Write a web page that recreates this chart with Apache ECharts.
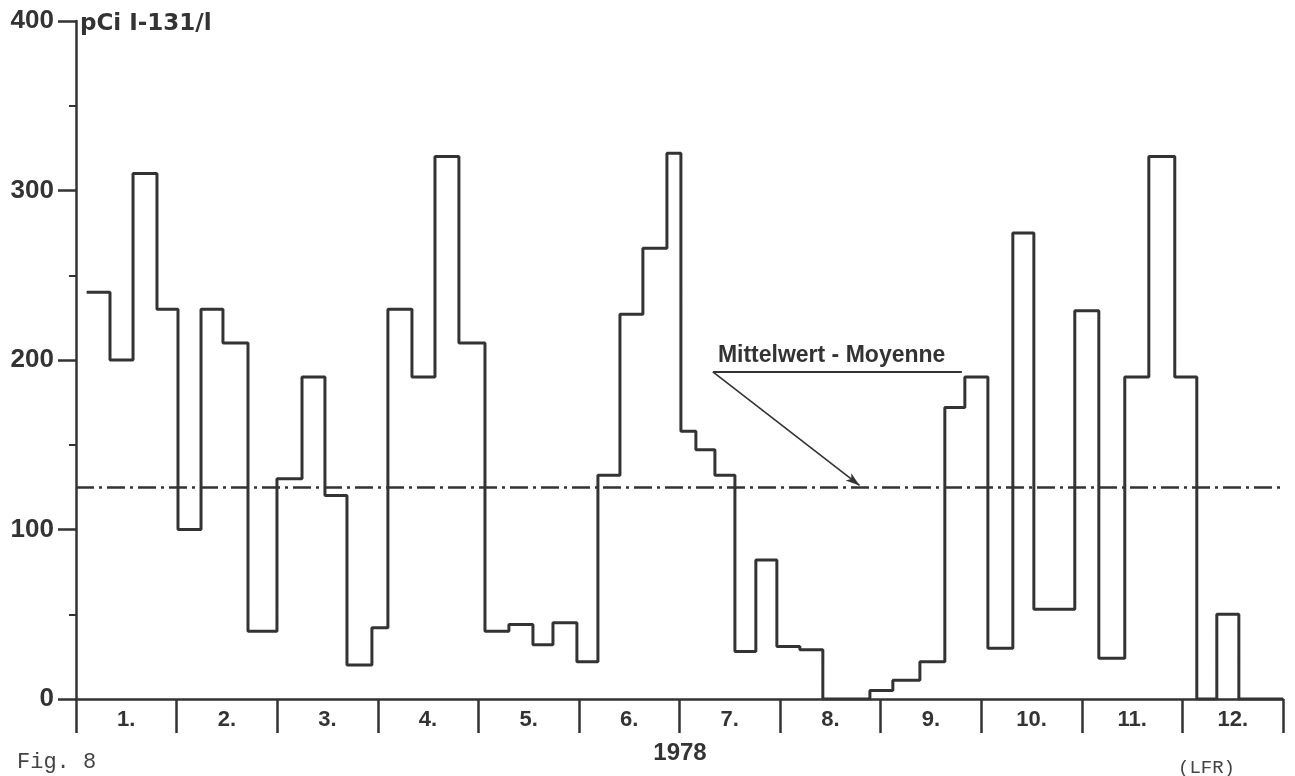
<!DOCTYPE html>
<html>
<head>
<meta charset="utf-8">
<script src="https://cdn.jsdelivr.net/npm/echarts@6/dist/echarts.min.js"></script>
<style>
html,body{margin:0;padding:0;background:#fff;}
#chart{width:1295px;height:776px;}
</style>
</head>
<body>
<div id="chart"></div>
<script>
// Month labels (x axis categories)
const months = ['1.','2.','3.','4.','5.','6.','7.','8.','9.','10.','11.','12.'];
// Y tick values
const yMin = 0, yMax = 400, yStep = 100;
// Sampling period starts, in months from 1 Jan 1978 (equal-width months)
const periodStart = [0.106,0.338,0.567,0.805,1.014,1.243,1.461,1.710,1.998,2.247,
  2.475,2.694,2.942,3.101,3.340,3.569,3.807,4.066,4.304,4.543,
  4.742,4.980,5.189,5.408,5.636,5.875,6.014,6.163,6.352,6.551,
  6.759,6.968,7.197,7.425,7.654,7.893,8.121,8.390,8.638,8.837,
  9.066,9.314,9.523,9.930,10.169,10.427,10.666,10.924,11.143,11.342,11.561];
const periodEnd = 12.0;
// I-131 activity per sampling period (pCi/l)
const activity = [240,200,310,230,100,230,210,40,130,190,
  120,20,42,230,190,320,210,40,44,32,
  45,22,132,227,266,322,158,147,132,28,
  82,31,29,0,0,5,11,22,172,190,
  30,275,53,229,24,190,320,190,0,50,0];
// Annual mean
const meanValue = 125;
// Annotation anchor (data units): label underline and arrow tip
const noteStart = [6.332, 193];
const noteEnd = [8.807, 193];
const arrowTip = [7.79, 126];

const ink = '#333';
const stepData = periodStart.map((x, i) => [x, activity[i]]);
stepData.push([periodEnd, activity[activity.length - 1]]);

const chart = echarts.init(document.getElementById('chart'));
chart.setOption({
  animation: false,
  backgroundColor: '#fff',
  grid: { left: 76, right: 12, top: 21, bottom: 77 },
  xAxis: [
    { type: 'value', min: 0, max: 12, show: false, position: 'bottom' },
    { type: 'category', data: months, boundaryGap: true, position: 'bottom',
      axisLine: { show: true, lineStyle: { color: ink, width: 2.5 } },
      axisTick: { show: true, length: 34, lineStyle: { color: ink, width: 2.5 } },
      axisLabel: { margin: 10, color: ink, fontFamily: 'Liberation Sans', fontWeight: 'bold', fontSize: 22 },
      splitLine: { show: false } }
  ],
  yAxis: {
    type: 'value', min: yMin, max: yMax, interval: yStep,
    axisLine: { show: true, lineStyle: { color: ink, width: 2.5 } },
    axisTick: { show: true, length: 18, lineStyle: { color: ink, width: 2.5 } },
    minorTick: { show: true, splitNumber: 2, length: 7, lineStyle: { color: ink, width: 2 } },
    axisLabel: { margin: 22, color: ink, fontFamily: 'Liberation Sans', fontWeight: 'bold', fontSize: 26 },
    splitLine: { show: false }
  },
  series: [
    {
      type: 'line', xAxisIndex: 0, step: 'end', data: stepData,
      symbol: 'none', lineStyle: { color: ink, width: 3 }, silent: true, z: 3
    },
    {
      type: 'line', xAxisIndex: 0, data: [], silent: true,
      markLine: {
        silent: true, animation: false,
        symbol: ['none', 'none'],
        data: [
          { yAxis: meanValue,
            lineStyle: { color: ink, width: 2.6, type: [18, 5, 3, 5] }, label: { show: false } },
          [ { coord: noteStart,
              lineStyle: { color: ink, width: 2, type: 'solid' },
              label: { show: true, position: 'insideStartTop', distance: 5,
                       formatter: 'Mittelwert - Moyenne', color: ink,
                       fontFamily: 'Liberation Sans', fontWeight: 'bold', fontSize: 23 } },
            { coord: noteEnd } ],
          [ { coord: noteStart, symbol: 'none',
              lineStyle: { color: ink, width: 1.6, type: 'solid' }, label: { show: false } },
            { coord: arrowTip, symbol: 'arrow', symbolSize: [7, 14] } ]
        ]
      }
    }
  ],
  graphic: [
    { type: 'text', x: 80, y: 24, style: { text: 'pCi I-131/l', fill: ink,
      font: 'bold 23px "DejaVu Sans"', verticalAlign: 'middle', align: 'left' } },
    { type: 'text', x: 680, y: 753, style: { text: '1978', fill: ink,
      font: 'bold 24px "Liberation Sans"', verticalAlign: 'middle', align: 'center' } },
    { type: 'text', x: 17, y: 762, style: { text: 'Fig. 8', fill: '#444',
      font: '22px "Liberation Mono"', verticalAlign: 'middle', align: 'left' } },
    { type: 'text', x: 1178, y: 768, style: { text: '(LFR)', fill: '#444',
      font: '19px "Liberation Mono"', verticalAlign: 'middle', align: 'left' } }
  ]
});
</script>
</body>
</html>
